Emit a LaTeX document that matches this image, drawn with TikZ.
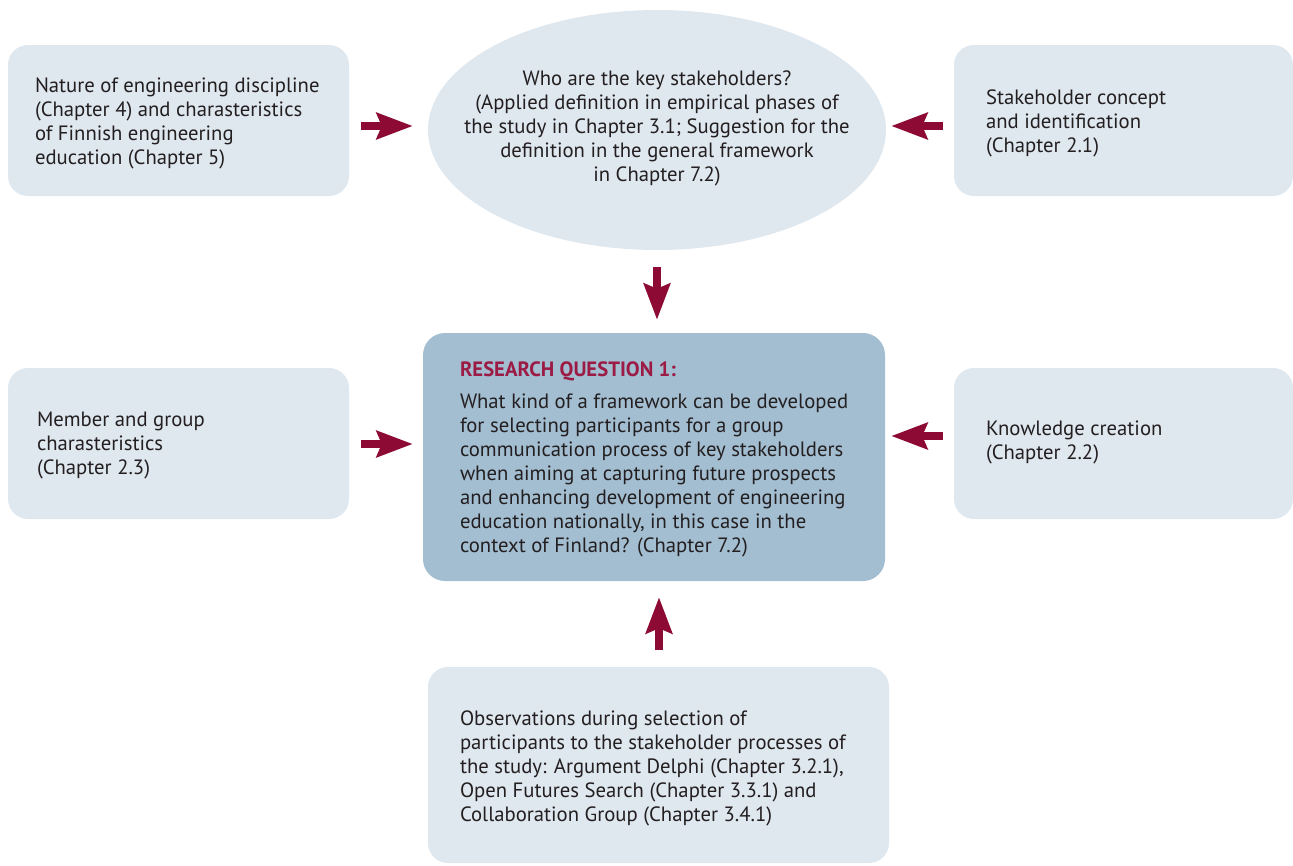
\documentclass[tikz,border=0pt]{standalone}
\usepackage{fontspec}
\setmainfont{PT Sans}
\usetikzlibrary{arrows.meta,shapes.geometric,calc}
\definecolor{boxfill}{HTML}{DFE7EF}
\definecolor{rqfill}{HTML}{A3BDD1}
\definecolor{arrowred}{HTML}{8C0A33}
\definecolor{rqred}{HTML}{9B1B45}
\definecolor{ink}{HTML}{231F20}
\tikzset{
  infobox/.style={rectangle, rounded corners=20pt, fill=boxfill, draw=none, inner sep=0pt},
  rqbox/.style={rectangle, rounded corners=22pt, fill=rqfill, draw=none, inner sep=0pt},
  txt/.style={anchor=west, align=left, inner sep=0pt, text=ink},
  fat/.style={draw=arrowred, line width=7.5pt,
    -{Stealth[length=36pt, width=26pt, inset=5pt, fill=arrowred]}}
}
\begin{document}
\begin{tikzpicture}[x=1pt, y=-1pt, font=\fontsize{20.7}{24}\selectfont]
\useasboundingbox (0,0) rectangle (1293,865);

% boxes
\node[infobox, minimum width=341pt, minimum height=151pt] (tl) at (178.5,120.5) {};
\node[infobox, minimum width=339pt, minimum height=151pt] (tr) at (1123.5,120.5) {};
\node[infobox, minimum width=341pt, minimum height=151pt] (ml) at (178.5,443.5) {};
\node[infobox, minimum width=339pt, minimum height=151pt] (mr) at (1123.5,443.5) {};
\node[infobox, minimum width=461pt, minimum height=196pt] (bt) at (658.5,765) {};
\node[rqbox, minimum width=462pt, minimum height=248pt] (rq) at (654,457) {};
\node[ellipse, fill=boxfill, inner sep=0pt, minimum width=458pt, minimum height=240pt] (ell) at (657,130) {};

% texts
\node[txt] (tlt) at ($(tl.west)+(27,3)$) {Nature of engineering discipline\\(Chapter 4) and charasteristics\\of Finnish engineering\\education (Chapter 5)};
\node[txt] (trt) at ($(tr.west)+(32,3)$) {Stakeholder concept\\and identification\\(Chapter 2.1)};
\node[txt] (mlt) at ($(ml.west)+(29,2)$) {Member and group\\charasteristics\\(Chapter 2.3)};
\node[txt] (mrt) at ($(mr.west)+(32,-1)$) {Knowledge creation\\(Chapter 2.2)};
\node[txt] (btt) at ($(bt.west)+(32,3)$) {Observations during selection of\\participants to the stakeholder processes of\\the study: Argument Delphi (Chapter 3.2.1),\\Open Futures Search (Chapter 3.3.1) and\\Collaboration Group (Chapter 3.4.1)};
\node[align=center, inner sep=0pt, text=ink] (ellt) at ($(ell.center)+(0,-2)$) {Who are the key stakeholders?\\(Applied definition in empirical phases of\\the study in Chapter 3.1; Suggestion for the\\definition in the general framework\\in Chapter 7.2)};
\node[txt] (rqt) at ($(rq.west)+(37,2)$) {{\bfseries\color{rqred}RESEARCH QUESTION 1:}\\[8pt]What kind of a framework can be developed\\for selecting participants for a group\\communication process of key stakeholders\\when aiming at capturing future prospects\\and enhancing development of engineering\\education nationally, in this case in the\\context of Finland? (Chapter 7.2)};

% arrows
\draw[fat] ($(tl.east)+(12,5.5)$) -- ($(ell.west)+(-15,-4)$);
\draw[fat] ($(tr.west)+(-11,5.5)$) -- ($(ell.east)+(5,-4)$);
\draw[fat] ($(ell.south)+(0,17)$) -- ($(rq.north)+(3,-13)$);
\draw[fat] ($(ml.east)+(12,0.5)$) -- ($(rq.west)+(-10,-13)$);
\draw[fat] ($(mr.west)+(-11,-7.5)$) -- ($(rq.east)+(6,-21)$);
\draw[fat] ($(bt.north)+(0.5,-17)$) -- ($(rq.south)+(5,16)$);
\end{tikzpicture}
\end{document}
